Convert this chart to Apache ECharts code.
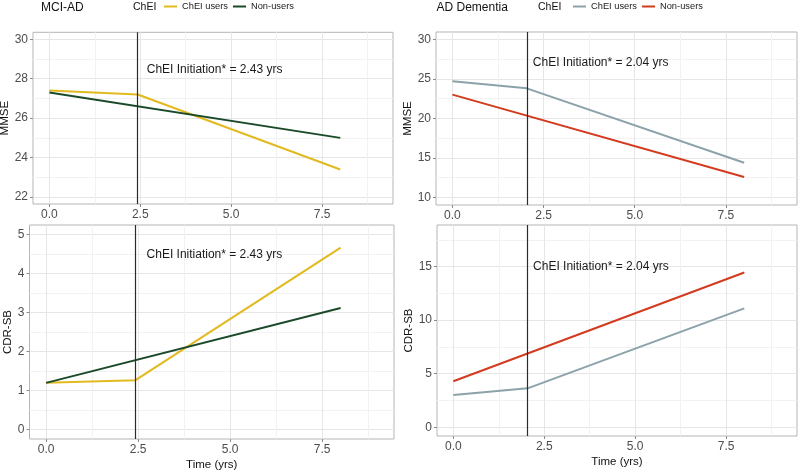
<!DOCTYPE html>
<html>
<head>
<meta charset="utf-8">
<script src="https://cdn.jsdelivr.net/npm/echarts@6/dist/echarts.min.js"></script>
<style>html,body{margin:0;padding:0;background:#fff}#c{width:800px;height:470px}</style>
</head>
<body>
<div id="c"></div>
<script>
// ---- data ----
const panelTitles = ['MCI-AD', 'AD Dementia'];
const legendTitle = 'ChEI';
const groupNames = ['ChEI users', 'Non-users'];
const initiation = [2.43, 2.04];          // years (MCI-AD, AD Dementia)
const timeUsersMCI = [0, 2.43, 8];
const timeUsersAD = [0, 2.04, 8];
const timeNonUsers = [0, 8];
const mciMmseUsers = [27.4, 27.2, 23.4];
const mciMmseNon = [27.3, 25.0];
const mciCdrUsers = [1.2, 1.27, 4.67];
const mciCdrNon = [1.2, 3.12];
const adMmseUsers = [24.7, 23.8, 14.4];
const adMmseNon = [23.0, 12.6];
const adCdrUsers = [3.0, 3.63, 11.1];
const adCdrNon = [4.3, 14.45];
const xTicks = [0, 2.5, 5, 7.5];
const xMinor = [1.25, 3.75, 6.25, 8.75];
const yTicksMciMmse = [22, 24, 26, 28, 30];
const yMinorMciMmse = [23, 25, 27, 29];
const yTicksAdMmse = [10, 15, 20, 25, 30];
const yMinorAdMmse = [12.5, 17.5, 22.5, 27.5];
const yTicksMciCdr = [0, 1, 2, 3, 4, 5];
const yMinorMciCdr = [0.5, 1.5, 2.5, 3.5, 4.5];
const yTicksAdCdr = [0, 5, 10, 15];
const yMinorAdCdr = [2.5, 7.5, 12.5, 17.5];
const xLabel = 'Time (yrs)';
const yLabels = ['MMSE', 'CDR-SB'];

// ---- styling ----
const FONT = '"Liberation Sans", Arial, Helvetica, sans-serif';
const colorsMCI = ['#E2B91E', '#1B4A2B'];
const colorsAD = ['#8CA2AA', '#D23B1E'];

const zip = (xs, ys) => xs.map((x, i) => [x, ys[i]]);

const panels = [
  { grid: {left: 33, top: 32.3, width: 360, height: 171.7}, yMin: 21.65, yMax: 30.35,
    yTicks: yTicksMciMmse, yMinor: yMinorMciMmse, yName: yLabels[0], nameGap: 19, xName: '',
    users: zip(timeUsersMCI, mciMmseUsers), non: zip(timeNonUsers, mciMmseNon),
    colors: colorsMCI, init: initiation[0], labelY: 28.45, labelDist: 8.5 },
  { grid: {left: 436, top: 32, width: 361, height: 173}, yMin: 9.05, yMax: 30.92,
    yTicks: yTicksAdMmse, yMinor: yMinorAdMmse, yName: yLabels[0], nameGap: 21.5, xName: '',
    users: zip(timeUsersAD, adMmseUsers), non: zip(timeNonUsers, adMmseNon),
    colors: colorsAD, init: initiation[1], labelY: 27, labelDist: 5.5 },
  { grid: {left: 29.5, top: 225, width: 364.5, height: 214}, yMin: -0.24, yMax: 5.25,
    yTicks: yTicksMciCdr, yMinor: yMinorMciCdr, yName: yLabels[1], nameGap: 14, xName: xLabel,
    users: zip(timeUsersMCI, mciCdrUsers), non: zip(timeNonUsers, mciCdrNon),
    colors: colorsMCI, init: initiation[0], labelY: 4.5, labelDist: 10.5 },
  { grid: {left: 437, top: 225, width: 360, height: 211}, yMin: -0.82, yMax: 18.89,
    yTicks: yTicksAdCdr, yMinor: yMinorAdCdr, yName: yLabels[1], nameGap: 20.5, xName: xLabel,
    users: zip(timeUsersAD, adCdrUsers), non: zip(timeNonUsers, adCdrNon),
    colors: colorsAD, init: initiation[1], labelY: 15, labelDist: 5 }
];

const grids = [], xAxes = [], yAxes = [], series = [];
const XMIN = -0.45, XMAX = 9.45;
panels.forEach((p, g) => {
  grids.push(Object.assign({show: true, borderColor: '#b5b5b5', borderWidth: 1,
    backgroundColor: 'transparent', containLabel: false, outerBoundsMode: 'none'}, p.grid));
  // major x axis
  xAxes.push({
    type: 'value', gridIndex: g, min: XMIN, max: XMAX,
    name: p.xName, nameLocation: 'middle', nameGap: 19.5,
    nameTextStyle: {fontSize: 11.5, color: '#111', fontFamily: FONT},
    axisLine: {show: false, onZero: false},
    axisTick: {show: true, length: 3, customValues: xTicks, lineStyle: {color: '#8a8a8a'}},
    axisLabel: {show: true, customValues: xTicks, margin: 5, fontSize: 12, color: '#4d4d4d',
      fontFamily: FONT, formatter: v => Number(v).toFixed(1)},
    splitLine: {show: true, lineStyle: {color: '#e6e6e6', width: 1}}
  });
  // minor x axis (grid lines only)
  xAxes.push({
    type: 'value', gridIndex: g, min: XMIN, max: XMAX,
    axisLine: {show: false, onZero: false},
    axisTick: {show: false, customValues: xMinor},
    axisLabel: {show: false, customValues: xMinor},
    splitLine: {show: true, lineStyle: {color: '#f2f2f2', width: 1}}
  });
  yAxes.push({
    type: 'value', gridIndex: g, min: p.yMin, max: p.yMax,
    name: p.yName, nameLocation: 'middle', nameGap: p.nameGap, nameRotate: 90,
    nameTextStyle: {fontSize: 11.5, color: '#111', fontFamily: FONT},
    axisLine: {show: false, onZero: false},
    axisTick: {show: true, length: 3, customValues: p.yTicks, lineStyle: {color: '#8a8a8a'}},
    axisLabel: {show: true, customValues: p.yTicks, margin: 5, fontSize: 12, color: '#4d4d4d',
      fontFamily: FONT},
    splitLine: {show: true, lineStyle: {color: '#e6e6e6', width: 1}}
  });
  yAxes.push({
    type: 'value', gridIndex: g, min: p.yMin, max: p.yMax,
    axisLine: {show: false, onZero: false},
    axisTick: {show: false, customValues: p.yMinor},
    axisLabel: {show: false, customValues: p.yMinor},
    splitLine: {show: true, lineStyle: {color: '#f2f2f2', width: 1}}
  });
  const xi = 2 * g, yi = 2 * g;
  series.push({
    type: 'line', name: groupNames[0], xAxisIndex: xi, yAxisIndex: yi,
    data: p.users, showSymbol: false, symbol: 'none', silent: true,
    lineStyle: {color: p.colors[0], width: 2}, itemStyle: {color: p.colors[0]},
    z: 3,
    markLine: {
      silent: true, symbol: 'none', animation: false,
      label: {show: false},
      lineStyle: {color: '#2b2b2b', width: 1.2, type: 'solid'},
      data: [{xAxis: p.init}]
    },
    markPoint: {
      silent: true, symbol: 'rect', symbolSize: 1, animation: false,
      itemStyle: {color: 'rgba(0,0,0,0)'},
      label: {show: true, position: 'right', distance: p.labelDist,
        formatter: 'ChEI Initiation* = ' + p.init.toFixed(2) + ' yrs',
        color: '#1a1a1a', fontSize: 12, fontFamily: FONT},
      data: [{coord: [p.init, p.labelY]}]
    }
  });
  series.push({
    type: 'line', name: groupNames[1], xAxisIndex: xi, yAxisIndex: yi,
    data: p.non, showSymbol: false, symbol: 'none', silent: true,
    lineStyle: {color: p.colors[1], width: 2}, itemStyle: {color: p.colors[1]},
    z: 4
  });
});

const titleStyle = (size) => ({fontSize: size, fontWeight: 'normal', color: '#111', fontFamily: FONT});
const legendBase = {
  orient: 'horizontal', top: 2, padding: 0, itemGap: 5, itemWidth: 13, itemHeight: 2,
  icon: 'rect', selectedMode: false,
  textStyle: {fontSize: 9.3, color: '#1a1a1a', fontFamily: FONT}
};

const option = {
  animation: false,
  backgroundColor: '#ffffff',
  textStyle: {fontFamily: FONT},
  title: [
    {text: panelTitles[0], left: 41, top: 1.5, padding: 0, textStyle: titleStyle(12)},
    {text: legendTitle, left: 133, top: 1.5, padding: 0, textStyle: titleStyle(10.5)},
    {text: panelTitles[1], left: 436.5, top: 1.5, padding: 0, textStyle: titleStyle(12)},
    {text: legendTitle, left: 538, top: 1.5, padding: 0, textStyle: titleStyle(10.5)}
  ],
  legend: [
    Object.assign({}, legendBase, {left: 164,
      data: groupNames.map((n, i) => ({name: n, itemStyle: {color: colorsMCI[i], borderWidth: 0}}))}),
    Object.assign({}, legendBase, {left: 573,
      data: groupNames.map((n, i) => ({name: n, itemStyle: {color: colorsAD[i], borderWidth: 0}}))})
  ],
  grid: grids,
  xAxis: xAxes,
  yAxis: yAxes,
  series: series
};

const chart = echarts.init(document.getElementById('c'), null, {renderer: 'canvas'});
chart.setOption(option);
</script>
</body>
</html>
